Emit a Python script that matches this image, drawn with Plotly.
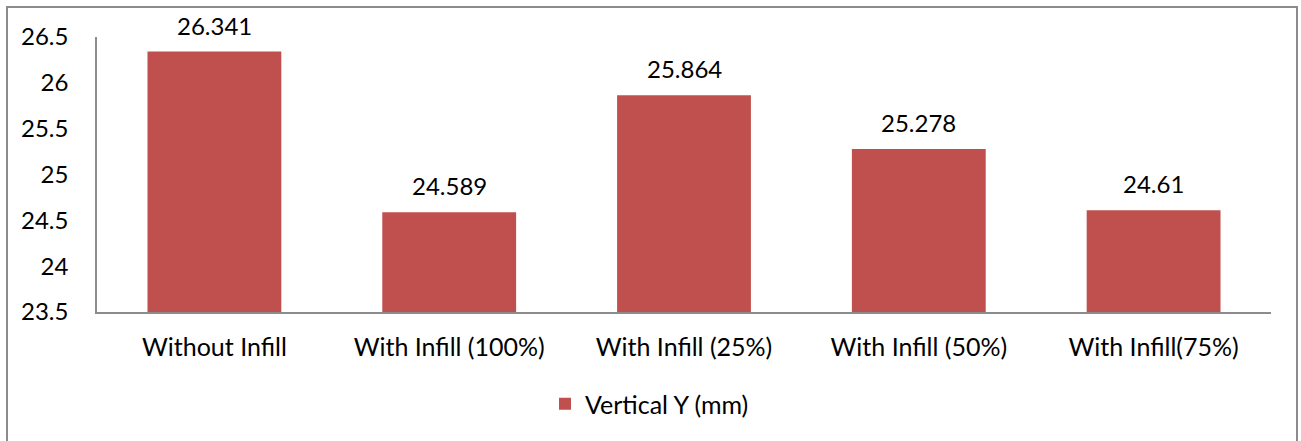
import plotly.graph_objects as go

# Measured dimensions per build configuration
categories = ["Without Infill", "With Infill (100%)", "With Infill (25%)",
              "With Infill (50%)", "With Infill(75%)"]
vertical_y = [26.341, 24.589, 25.864, 25.278, 24.61]
value_labels = ["26.341", "24.589", "25.864", "25.278", "24.61"]
series_name = "Vertical Y (mm)"
y_ticks = [23.5, 24, 24.5, 25, 25.5, 26, 26.5]
y_tick_text = ["23.5", "24", "24.5", "25", "25.5", "26", "26.5"]

W, H = 1301, 441
L, R, T, B = 97, 30, 37, 129
plot_w = W - L - R
plot_h = H - T - B

FONT = "Lato"
BAR = "#C0504D"
AXIS = "#8c8c8c"

fig = go.Figure()
fig.add_trace(go.Bar(
    x=categories, y=vertical_y, name=series_name,
    marker=dict(color=BAR, line=dict(width=0)),
    width=0.57, showlegend=True,
))

# Value labels above each bar
for c, v, t in zip(categories, vertical_y, value_labels):
    fig.add_annotation(x=c, y=v, text=t, showarrow=False,
                       yanchor="bottom", yshift=10,
                       font=dict(family=FONT, size=24, color="#000"))

# Chart-area border
def px_x(p):
    return (p - L) / plot_w

def px_y(p):
    return (H - B - p) / plot_h

fig.add_shape(type="rect", xref="paper", yref="paper",
              x0=px_x(7), x1=px_x(1297), y0=px_y(470), y1=px_y(7),
              line=dict(color=AXIS, width=2), fillcolor="rgba(0,0,0,0)",
              layer="below")

fig.update_layout(
    width=W, height=H,
    margin=dict(l=L, r=R, t=T, b=B, pad=0),
    paper_bgcolor="white", plot_bgcolor="white",
    font=dict(family=FONT, size=24, color="#000"),
    bargap=0.43,
    legend=dict(orientation="h", x=px_x(545), xanchor="left",
                y=px_y(404), yanchor="middle",
                font=dict(family=FONT, size=25, color="#000"),
                bgcolor="rgba(0,0,0,0)"),
    xaxis=dict(showline=True, linecolor=AXIS, linewidth=1.5,
               showgrid=False, ticks="", ticklabelstandoff=12,
               tickfont=dict(family=FONT, size=25)),
    yaxis=dict(range=[23.5, 26.5], showline=True, linecolor=AXIS,
               linewidth=1.5, showgrid=False, zeroline=False, ticks="",
               tickvals=y_ticks, ticktext=y_tick_text,
               ticklabelstandoff=22, tickfont=dict(family=FONT, size=24)),
)

fig.write_html("out.html")
